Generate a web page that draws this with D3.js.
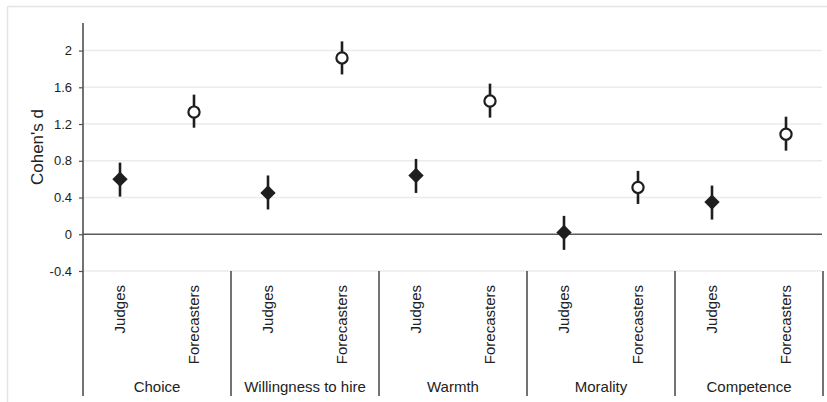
<!DOCTYPE html>
<html>
<head>
<meta charset="utf-8">
<script src="https://cdn.jsdelivr.net/npm/d3@7"></script>
<style>
  html, body { margin: 0; padding: 0; background: #fff; }
  svg { display: block; font-family: "Liberation Sans", Arial, sans-serif; }
</style>
</head>
<body>
<svg id="chart" width="827" height="402"></svg>
<script>
// Outcome measures and rater groups
const categories = ["Choice", "Willingness to hire", "Warmth", "Morality", "Competence"];
const groups = ["Judges", "Forecasters"];

// Effect sizes (Cohen's d) with 95% CI bounds, one entry per category
const judgesD     = [0.60, 0.45, 0.64, 0.02, 0.35];
const judgesLow   = [0.41, 0.27, 0.45, -0.17, 0.16];
const judgesHigh  = [0.78, 0.64, 0.82, 0.20, 0.53];
const forecastD    = [1.33, 1.92, 1.45, 0.51, 1.09];
const forecastLow  = [1.16, 1.74, 1.27, 0.33, 0.91];
const forecastHigh = [1.52, 2.10, 1.64, 0.69, 1.28];

const yTicks = [-0.4, 0, 0.4, 0.8, 1.2, 1.6, 2];

(function draw() {
  const svg = d3.select("#chart");
  const dark = "#1e1e1e";
  const axisCol = "#505050";

  const mLeft = 83, mRight = 823, mTop = 23, plotBottom = 271, axisBottom = 396;

  const y = d3.scaleLinear().domain([-0.4, 2.3]).range([plotBottom, mTop]);
  const x0 = d3.scaleBand().domain(categories).range([mLeft, mRight]);
  const x1 = d3.scaleBand().domain(groups).range([0, x0.bandwidth()]);

  // light frame around the figure
  svg.append("line").attr("x1", 7.5).attr("x2", 827).attr("y1", 6.5).attr("y2", 6.5)
    .attr("stroke", "#e4e4e4").attr("stroke-width", 1.5);
  svg.append("line").attr("x1", 7.5).attr("x2", 7.5).attr("y1", 6.5).attr("y2", 402)
    .attr("stroke", "#e4e4e4").attr("stroke-width", 1.5);

  // horizontal gridlines
  svg.append("g").selectAll("line")
    .data(yTicks.filter(t => t !== 0))
    .join("line")
    .attr("x1", mLeft).attr("x2", mRight - 1)
    .attr("y1", d => y(d)).attr("y2", d => y(d))
    .attr("stroke", "#ebebeb").attr("stroke-width", 1.5);

  // zero reference line
  svg.append("line")
    .attr("x1", mLeft).attr("x2", mRight - 1)
    .attr("y1", y(0)).attr("y2", y(0))
    .attr("stroke", "#5a5a5a").attr("stroke-width", 1.6);

  // y axis with outward ticks
  const yAxis = d3.axisLeft(y).tickValues(yTicks).tickSize(4).tickPadding(7)
    .tickFormat(d => String(+d.toFixed(1)));
  const ga = svg.append("g").attr("transform", `translate(${mLeft},0)`).call(yAxis);
  ga.select(".domain").remove();
  ga.selectAll(".tick line").attr("stroke", axisCol).attr("stroke-width", 1.2);
  ga.selectAll(".tick text").attr("font-size", 13).attr("fill", "#222")
    .attr("font-family", "'Liberation Sans', Arial, sans-serif");

  // vertical axis line running through the category area
  svg.append("line").attr("x1", mLeft).attr("x2", mLeft).attr("y1", mTop).attr("y2", axisBottom)
    .attr("stroke", axisCol).attr("stroke-width", 1.6);

  // category separators
  svg.append("g").selectAll("line")
    .data(categories.slice(1).map(c => x0(c)).concat([mRight]))
    .join("line")
    .attr("x1", d => d).attr("x2", d => d)
    .attr("y1", plotBottom).attr("y2", axisBottom)
    .attr("stroke", axisCol).attr("stroke-width", 1.6);

  // y axis title
  svg.append("text")
    .attr("transform", `translate(43,${(mTop + plotBottom) / 2}) rotate(-90)`)
    .attr("text-anchor", "middle")
    .attr("font-size", 17).attr("fill", "#222")
    .text("Cohen's d");

  // rater group labels (rotated) and category labels
  const catG = svg.append("g").selectAll("g").data(categories).join("g")
    .attr("transform", c => `translate(${x0(c)},0)`);

  catG.selectAll("text.sub").data(groups).join("text")
    .attr("class", "sub")
    .attr("transform", g => `translate(${x1(g) + x1.bandwidth() / 2},285) rotate(-90)`)
    .attr("dy", "0.36em")
    .attr("text-anchor", "end")
    .attr("font-size", 15).attr("fill", "#222")
    .text(g => g);

  catG.append("text")
    .attr("x", x0.bandwidth() / 2).attr("y", 392)
    .attr("text-anchor", "middle")
    .attr("font-size", 15).attr("fill", "#222")
    .text(c => c);

  // assemble point estimates
  const points = [];
  categories.forEach((c, i) => {
    points.push({ cat: c, grp: "Judges", d: judgesD[i], lo: judgesLow[i], hi: judgesHigh[i] });
    points.push({ cat: c, grp: "Forecasters", d: forecastD[i], lo: forecastLow[i], hi: forecastHigh[i] });
  });
  const px = p => x0(p.cat) + x1(p.grp) + x1.bandwidth() / 2;

  // confidence intervals
  svg.append("g").selectAll("line").data(points).join("line")
    .attr("x1", px).attr("x2", px)
    .attr("y1", p => y(p.lo)).attr("y2", p => y(p.hi))
    .attr("stroke", dark).attr("stroke-width", 2.6);

  // judges: filled diamonds
  svg.append("g").selectAll("path").data(points.filter(p => p.grp === "Judges")).join("path")
    .attr("transform", p => `translate(${px(p)},${y(p.d)})`)
    .attr("d", d3.symbol(d3.symbolDiamond2, 150)())
    .attr("fill", dark);

  // forecasters: open circles
  svg.append("g").selectAll("circle").data(points.filter(p => p.grp === "Forecasters")).join("circle")
    .attr("cx", px).attr("cy", p => y(p.d))
    .attr("r", 5.6)
    .attr("fill", "#fff").attr("stroke", dark).attr("stroke-width", 2.2);
})();
</script>
</body>
</html>
